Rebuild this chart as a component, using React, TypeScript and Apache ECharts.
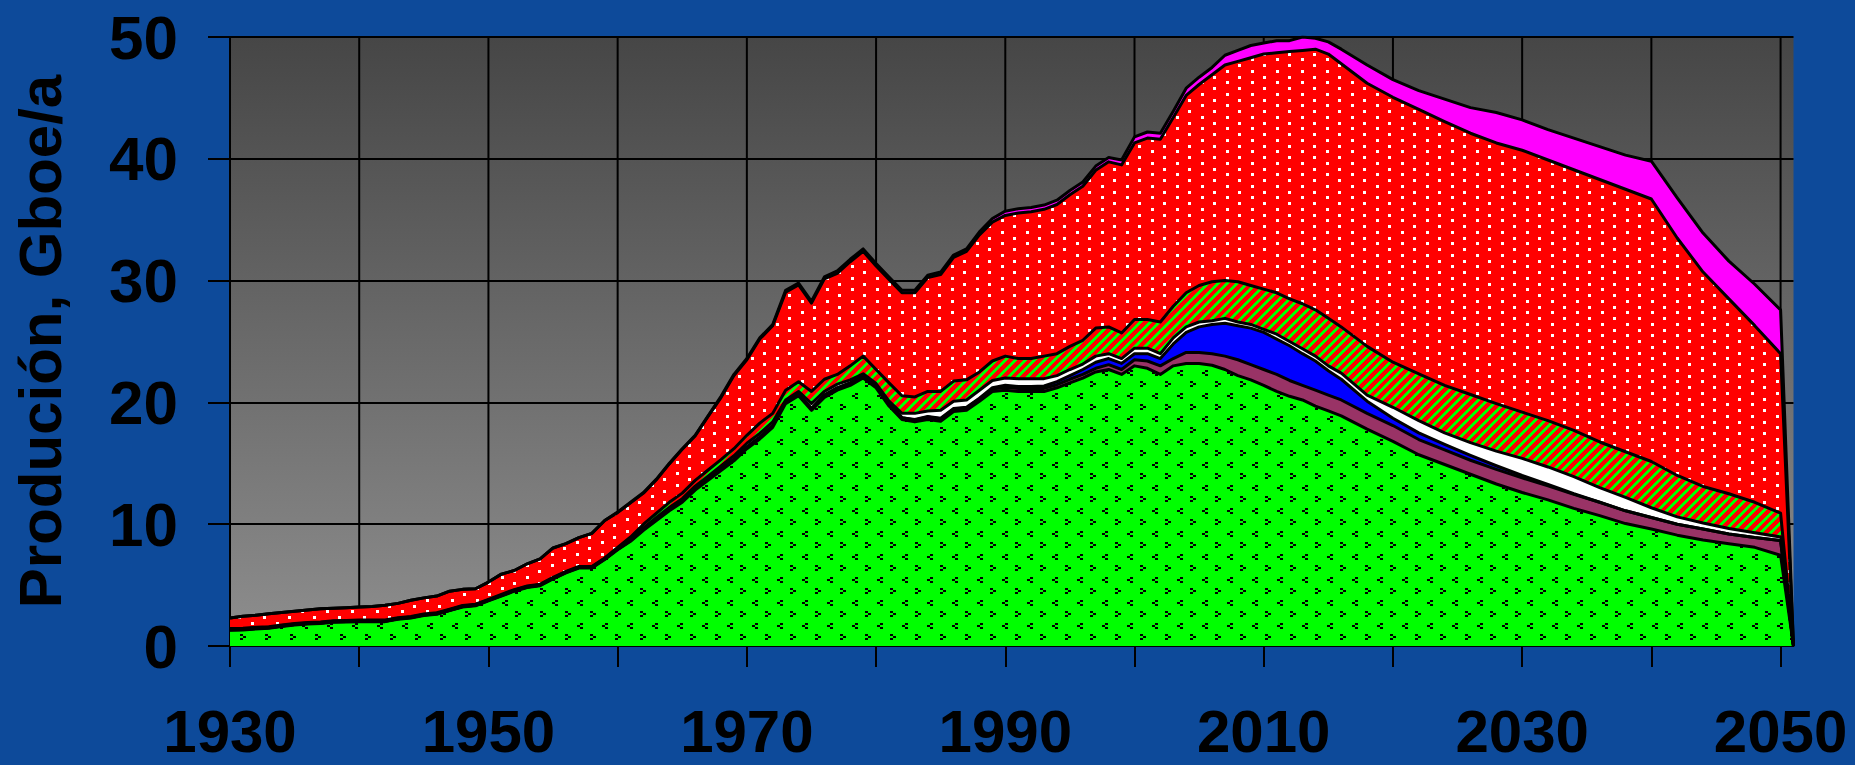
import React, { useEffect, useRef } from "react";
import * as echarts from "echarts";

// Years (x values)
const years = [
  1930, 1931, 1932, 1933, 1934, 1935, 1936, 1937, 1938, 1939,
  1940, 1941, 1942, 1943, 1944, 1945, 1946, 1947, 1948, 1949,
  1950, 1951, 1952, 1953, 1954, 1955, 1956, 1957, 1958, 1959,
  1960, 1961, 1962, 1963, 1964, 1965, 1966, 1967, 1968, 1969,
  1970, 1971, 1972, 1973, 1974, 1975, 1976, 1977, 1978, 1979,
  1980, 1981, 1982, 1983, 1984, 1985, 1986, 1987, 1988, 1989,
  1990, 1991, 1992, 1993, 1994, 1995, 1996, 1997, 1998, 1999,
  2000, 2001, 2002, 2003, 2004, 2005, 2006, 2007, 2008, 2009,
  2010,
  2011, 2012, 2013, 2014, 2015, 2016,
  2018, 2020, 2022, 2024, 2026, 2028, 2030, 2032, 2034, 2036, 2038, 2040, 2042, 2044, 2046, 2048, 2050,
  2051,
];

// Layers, bottom to top (Gboe/a per layer)
const greenLayer = [
  1.3, 1.32, 1.4, 1.45, 1.6, 1.72, 1.8, 1.85, 1.95, 1.97,
  2.0, 2.0, 2.0, 2.2, 2.3, 2.5, 2.6, 2.9, 3.2, 3.3,
  3.7, 4.1, 4.5, 4.8, 4.95, 5.5, 6.0, 6.4, 6.4, 7.1,
  7.9, 8.6, 9.5, 10.3, 11.1, 11.8, 12.8, 13.6, 14.4, 15.2,
  16.2, 17.0, 17.95, 19.9, 20.55, 19.35, 20.4, 21.0, 21.4, 22.0,
  21.2, 19.7, 18.6, 18.4, 18.6, 18.45, 19.25, 19.35, 20.1, 20.9,
  21.0, 20.9, 20.9, 20.9, 21.2, 21.6, 22.0, 22.5, 22.7, 22.3,
  23.0, 22.8, 22.3, 23.0, 23.2, 23.2, 23.05, 22.7, 22.2, 21.85,
  21.4,
  20.9, 20.5, 20.2, 19.7, 19.3, 18.9,
  17.8, 16.8, 15.7, 14.9, 14.1, 13.3, 12.6, 12.0, 11.3, 10.7, 10.05, 9.6, 9.1, 8.7, 8.4, 8.1, 7.45,
  0,
];

const maroonLayer = [
  0.04, 0.04, 0.04, 0.04, 0.04, 0.04, 0.04, 0.04, 0.04, 0.04,
  0.04, 0.04, 0.04, 0.04, 0.04, 0.04, 0.04, 0.04, 0.04, 0.04,
  0.04, 0.04, 0.04, 0.04, 0.04, 0.04, 0.04, 0.04, 0.04, 0.04,
  0.05, 0.07, 0.08, 0.1, 0.1, 0.1, 0.12, 0.12, 0.13, 0.14,
  0.15, 0.15, 0.15, 0.15, 0.15, 0.15, 0.2, 0.2, 0.2, 0.15,
  0.15, 0.15, 0.15, 0.15, 0.2, 0.2, 0.2, 0.2, 0.2, 0.2,
  0.25, 0.25, 0.25, 0.25, 0.25, 0.3, 0.3, 0.3, 0.4, 0.4,
  0.5, 0.6, 0.7, 0.6, 0.9, 0.9, 0.95, 1.1, 1.3, 1.25,
  1.3,
  1.4, 1.3, 1.2, 1.3, 1.3, 1.3,
  1.3, 1.3, 1.25, 1.2, 1.15, 1.2, 1.2, 1.15, 1.15, 1.1, 1.05, 0.95, 0.9, 0.9, 0.8, 0.8, 1.2,
  0,
];

const blueLayer = [
  0, 0, 0, 0, 0, 0, 0, 0, 0, 0,
  0, 0, 0, 0, 0, 0, 0, 0, 0, 0,
  0, 0, 0, 0, 0, 0, 0, 0, 0, 0,
  0, 0, 0, 0, 0, 0, 0, 0, 0, 0,
  0, 0, 0, 0, 0, 0, 0, 0, 0, 0,
  0, 0, 0, 0.05, 0.05, 0.05, 0.05, 0.05, 0.05, 0.1,
  0.15, 0.15, 0.15, 0.2, 0.25, 0.3, 0.4, 0.5, 0.5, 0.5,
  0.5, 0.6, 0.6, 1.2, 1.65, 2.1, 2.4, 2.7, 2.8, 3.0,
  3.05,
  2.9, 2.85, 2.6, 2.4, 2.0, 1.7,
  1.0, 0.6, 0.55, 0.45, 0.4, 0.3, 0.2, 0.12, 0.05, 0, 0, 0, 0, 0, 0, 0, 0,
  0,
];

const whiteLayer = [
  0.04, 0.04, 0.04, 0.04, 0.04, 0.04, 0.04, 0.04, 0.04, 0.04,
  0.04, 0.04, 0.04, 0.04, 0.04, 0.04, 0.04, 0.04, 0.04, 0.04,
  0.04, 0.04, 0.04, 0.04, 0.04, 0.04, 0.04, 0.04, 0.04, 0.04,
  0.07, 0.1, 0.12, 0.15, 0.18, 0.2, 0.2, 0.22, 0.25, 0.28,
  0.3, 0.3, 0.3, 0.15, 0.2, 0.4, 0.3, 0.3, 0.25, 0.2,
  0.2, 0.25, 0.35, 0.5, 0.45, 0.65, 0.6, 0.6, 0.65, 0.6,
  0.6, 0.65, 0.65, 0.6, 0.5, 0.5, 0.45, 0.5, 0.4, 0.4,
  0.45, 0.45, 0.4, 0.5, 0.45, 0.4, 0.3, 0.4, 0.3, 0.3,
  0.25,
  0.4, 0.35, 0.4, 0.4, 0.4, 0.5,
  0.5, 0.9, 1.0, 0.95, 1.05, 1.2, 1.4, 1.43, 1.4, 1.2, 1.1, 0.8, 0.6, 0.5, 0.45, 0.4, 0.3,
  0,
];

const stripedLayer = [
  0.05, 0.05, 0.05, 0.05, 0.05, 0.05, 0.05, 0.05, 0.05, 0.05,
  0.05, 0.05, 0.05, 0.05, 0.05, 0.05, 0.05, 0.05, 0.05, 0.05,
  0.05, 0.05, 0.05, 0.05, 0.05, 0.05, 0.05, 0.05, 0.05, 0.05,
  0.08, 0.18, 0.3, 0.35, 0.42, 0.45, 0.48, 0.51, 0.52, 0.58,
  0.65, 0.85, 0.7, 0.8, 0.8, 1.0, 1.0, 0.8, 1.15, 1.45,
  1.15, 1.5, 1.45, 1.35, 1.6, 1.55, 1.65, 1.65, 1.5, 1.6,
  1.8, 1.65, 1.65, 1.85, 1.8, 1.9, 1.95, 2.3, 2.2, 2.1,
  2.35, 2.35, 2.6, 2.6, 2.8, 3.0, 3.2, 3.1, 3.3, 3.2,
  3.3,
  3.4, 3.5, 3.7, 3.8, 3.9, 3.8,
  4.0, 3.7, 3.85, 3.9, 3.95, 3.9, 3.8, 3.8, 3.8, 3.75, 3.75, 3.8, 3.4, 3.0, 2.85, 2.5, 1.95,
  0,
];

const dottedRedLayer = [
  0.87, 1.0, 1.0, 1.07, 1.02, 1.0, 1.02, 1.07, 1.02, 1.05,
  1.07, 1.12, 1.22, 1.17, 1.32, 1.32, 1.37, 1.47, 1.32, 1.27,
  1.42, 1.67, 1.57, 1.82, 2.07, 2.42, 2.27, 2.37, 2.72, 3.07,
  2.85, 2.8, 2.55, 2.75, 3.15, 3.6, 3.65, 4.4, 5.1, 6.0,
  6.2, 6.9, 7.2, 8.05, 7.95, 7.25, 8.25, 8.3, 8.55, 8.6,
  8.5, 8.5, 8.45, 8.55, 9.35, 9.6, 10.15, 10.55, 11.25, 11.4,
  11.55, 11.95, 12.05, 12.05, 12.25, 12.45, 12.65, 12.95, 13.55, 13.8,
  14.5, 14.9, 15.0, 15.5, 16.2, 16.5, 17.0, 17.7, 18.1, 18.7,
  19.3,
  19.7, 20.3, 20.8, 21.4, 21.7, 21.6,
  21.6, 21.75, 21.7, 21.65, 21.45, 21.4, 21.5, 21.4, 21.4, 21.55, 21.55, 21.55, 19.5, 17.6, 16.0, 14.5, 13.1,
  0,
];

const magentaLayer = [
  0, 0, 0, 0, 0, 0, 0, 0, 0, 0,
  0, 0, 0, 0, 0, 0, 0, 0, 0, 0,
  0, 0, 0, 0, 0, 0, 0, 0, 0, 0,
  0.05, 0.05, 0.05, 0.05, 0.05, 0.05, 0.05, 0.05, 0.1, 0.1,
  0.1, 0.1, 0.1, 0.15, 0.15, 0.15, 0.15, 0.2, 0.2, 0.2,
  0.2, 0.2, 0.2, 0.2, 0.2, 0.2, 0.2, 0.2, 0.25, 0.3,
  0.35, 0.35, 0.35, 0.35, 0.35, 0.35, 0.35, 0.35, 0.35, 0.4,
  0.5, 0.5, 0.5, 0.5, 0.6, 0.6, 0.6, 0.8, 0.9, 1.0,
  0.9,
  1.0, 0.9, 1.1, 0.9, 1.0, 1.2,
  1.5, 1.45, 1.55, 1.85, 2.1, 2.5, 2.5, 2.5, 2.6, 2.7, 2.8, 3.1, 3.3, 3.2, 3.1, 3.4, 3.6,
  0,
];

const yTicks = [0, 10, 20, 30, 40, 50];
const xGridYears = [1930, 1940, 1950, 1960, 1970, 1980, 1990, 2000, 2010, 2020, 2030, 2040, 2050];
const xLabelYears = [1930, 1950, 1970, 1990, 2010, 2030, 2050];

const FONT = '"Liberation Sans", Arial, Helvetica, sans-serif';

function makePattern(w: number, h: number, draw: (ctx: CanvasRenderingContext2D) => void) {
  const c = document.createElement("canvas");
  c.width = w;
  c.height = h;
  const ctx = c.getContext("2d") as CanvasRenderingContext2D;
  draw(ctx);
  return { image: c.toDataURL(), repeat: "repeat", imageWidth: w, imageHeight: h };
}

export default function App() {
  const ref = useRef<HTMLDivElement>(null);

  useEffect(() => {
    if (!ref.current) return;
    const chart = echarts.init(ref.current, null, { renderer: "svg" });

    const greenPat = makePattern(25, 23, (ctx) => {
      ctx.fillStyle = "#00ff00";
      ctx.fillRect(0, 0, 25, 23);
      ctx.fillStyle = "#000000";
      // "<" mark
      ctx.fillRect(5, 2, 3, 2);
      ctx.fillRect(2, 4, 3, 2);
      ctx.fillRect(5, 6, 3, 2);
      // ">" mark
      ctx.fillRect(15, 13, 3, 2);
      ctx.fillRect(18, 15, 3, 2);
      ctx.fillRect(15, 17, 3, 2);
    });

    const redDotPat = makePattern(25, 23, (ctx) => {
      ctx.fillStyle = "#ff0000";
      ctx.fillRect(0, 0, 25, 23);
      ctx.fillStyle = "#ffffff";
      ctx.fillRect(1, 1, 3, 3);
      ctx.fillRect(13, 7, 3, 3);
      ctx.fillRect(1, 12, 3, 3);
      ctx.fillRect(13, 18, 3, 3);
    });

    const stripePat = makePattern(29, 29, (ctx) => {
      ctx.fillStyle = "#ff0000";
      ctx.fillRect(0, 0, 29, 29);
      ctx.fillStyle = "#00ff00";
      const period = 29 / 3;
      for (let x = 0; x < 29; x++) {
        for (let y = 0; y < 29; y++) {
          const t = ((x + y) % 29) % period;
          if (t < 4) ctx.fillRect(x, y, 1, 1);
        }
      }
    });

    const layers = [
      { name: "green", data: greenLayer, fill: greenPat },
      { name: "maroon", data: maroonLayer, fill: "#993366" },
      { name: "blue", data: blueLayer, fill: "#0000ff" },
      { name: "white", data: whiteLayer, fill: "#ffffff" },
      { name: "striped", data: stripedLayer, fill: stripePat },
      { name: "dotted", data: dottedRedLayer, fill: redDotPat },
      { name: "magenta", data: magentaLayer, fill: "#ff00ff" },
    ];

    // cumulative tops of each layer (stacking)
    const running = years.map(() => 0);
    const tops = layers.map((l) =>
      l.data.map((v, k) => {
        running[k] = +(running[k] + v).toFixed(4);
        return running[k];
      })
    );

    const areaSeries = layers.map((l, i) => ({
      type: "line",
      name: l.name + "-area",
      data: years.map((y, k) => [y, tops[i][k]]),
      showSymbol: false,
      symbol: "none",
      silent: true,
      z: 10 - i,
      lineStyle: { width: 0, opacity: 0 },
      areaStyle: { color: l.fill, opacity: 1 },
      emphasis: { disabled: true },
    }));

    const lineSeries = layers.map((l, i) => ({
      type: "line",
      name: l.name + "-line",
      data: years.map((y, k) => [y, tops[i][k]]),
      showSymbol: false,
      symbol: "none",
      silent: true,
      z: 12,
      lineStyle: { color: "#000", width: 3, join: "round" },
      emphasis: { disabled: true },
    }));

    const gridSeries = {
      type: "custom",
      name: "vgrid",
      silent: true,
      z: 1,
      data: xGridYears.map((y) => [y]),
      renderItem: (params: any, api: any) => {
        const x = api.value(0);
        const p0 = api.coord([x, yTicks[0]]);
        const p1 = api.coord([x, yTicks[yTicks.length - 1]]);
        return {
          type: "line",
          shape: { x1: p0[0], y1: p0[1], x2: p1[0], y2: p1[1] },
          style: { stroke: "#000", lineWidth: 2 },
        };
      },
    };

    const option: any = {
      animation: false,
      backgroundColor: "transparent",
      grid: {
        left: 230,
        top: 37,
        width: 1563.5,
        height: 609,
        show: true,
        borderWidth: 0,
        backgroundColor: new echarts.graphic.LinearGradient(0, 0, 0, 1, [
          { offset: 0, color: "#464646" },
          { offset: 1, color: "#8e8e8e" },
        ]),
      },
      xAxis: {
        type: "value",
        min: 1930,
        max: 2051,
        interval: 10,
        axisLine: { show: true, onZero: false, lineStyle: { color: "#000", width: 2 } },
        axisTick: {
          show: true,
          length: 21,
          customValues: xGridYears,
          lineStyle: { color: "#000", width: 2 },
        },
        axisLabel: {
          customValues: xLabelYears,
          margin: 60,
          lineHeight: 50,
          color: "#000",
          fontSize: 60,
          fontWeight: "bold",
          fontFamily: FONT,
          formatter: (v: number) => String(v),
        },
        splitLine: { show: false },
      },
      yAxis: {
        type: "value",
        min: yTicks[0],
        max: yTicks[yTicks.length - 1],
        interval: 10,
        name: "Produción, Gboe/a",
        nameLocation: "middle",
        nameGap: 160,
        nameRotate: 90,
        nameTextStyle: { color: "#000", fontSize: 60, fontWeight: "bold", fontFamily: FONT },
        axisLine: { show: true, lineStyle: { color: "#000", width: 2 } },
        axisTick: { show: true, length: 22, lineStyle: { color: "#000", width: 2 } },
        axisLabel: { margin: 52, color: "#000", fontSize: 62, fontWeight: "bold", fontFamily: FONT },
        splitLine: { show: true, lineStyle: { color: "#000", width: 2 } },
      },
      series: [gridSeries, ...areaSeries, ...lineSeries],
    };

    chart.setOption(option);
    return () => chart.dispose();
  }, []);

  return (
    <div
      ref={ref}
      style={{
        position: "fixed",
        left: 0,
        top: 0,
        width: 1855,
        height: 765,
        background: "#0d4a9a",
      }}
    />
  );
}
